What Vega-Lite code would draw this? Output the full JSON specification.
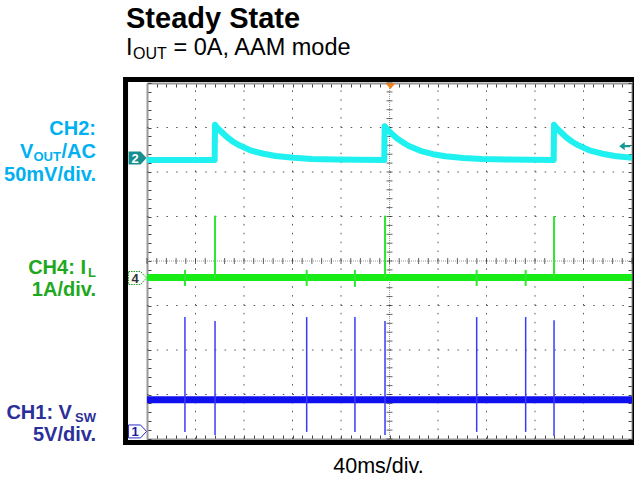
{
  "$schema": "https://vega.github.io/schema/vega-lite/v6.json",
  "width": 485,
  "height": 356,
  "autosize": "none",
  "padding": {"left": 147, "top": 83, "right": 2, "bottom": 42},
  "background": "white",
  "config": {"view": {"stroke": null}},
  "resolve": {"axis": {"x": "independent", "y": "independent"}},
  "datasets": {
    "minx": [{"t":-200},{"t":-192},{"t":-184},{"t":-176},{"t":-168},{"t":-160},{"t":-152},{"t":-144},{"t":-136},{"t":-128},{"t":-120},{"t":-112},{"t":-104},{"t":-96},{"t":-88},{"t":-80},{"t":-72},{"t":-64},{"t":-56},{"t":-48},{"t":-40},{"t":-32},{"t":-24},{"t":-16},{"t":-8},{"t":0},{"t":8},{"t":16},{"t":24},{"t":32},{"t":40},{"t":48},{"t":56},{"t":64},{"t":72},{"t":80},{"t":88},{"t":96},{"t":104},{"t":112},{"t":120},{"t":128},{"t":136},{"t":144},{"t":152},{"t":160},{"t":168},{"t":176},{"t":184},{"t":192},{"t":200}],
    "miny": [{"v":-4},{"v":-3.8},{"v":-3.6},{"v":-3.4},{"v":-3.2},{"v":-3},{"v":-2.8},{"v":-2.6},{"v":-2.4},{"v":-2.2},{"v":-2},{"v":-1.8},{"v":-1.6},{"v":-1.4},{"v":-1.2},{"v":-1},{"v":-0.8},{"v":-0.6},{"v":-0.4},{"v":-0.2},{"v":0},{"v":0.2},{"v":0.4},{"v":0.6},{"v":0.8},{"v":1},{"v":1.2},{"v":1.4},{"v":1.6},{"v":1.8},{"v":2},{"v":2.2},{"v":2.4},{"v":2.6},{"v":2.8},{"v":3},{"v":3.2},{"v":3.4},{"v":3.6},{"v":3.8},{"v":4}],
    "gridx": [{"t":-160},{"t":-120},{"t":-80},{"t":-40},{"t":40},{"t":80},{"t":120},{"t":160}],
    "gridy": [{"v":-3},{"v":-2},{"v":-1},{"v":1},{"v":2},{"v":3}],
    "ch2": [
      {"ms":-200,"div":2.27},{"ms":-144.2,"div":2.27},{"ms":-143.9,"div":3.06},{"ms":-141.9,"div":2.99},{"ms":-138.9,"div":2.91},{"ms":-133.9,"div":2.78},{"ms":-128.9,"div":2.68},{"ms":-123.9,"div":2.6},{"ms":-113.9,"div":2.48},{"ms":-103.9,"div":2.41},{"ms":-93.9,"div":2.36},{"ms":-78.9,"div":2.32},{"ms":-63.9,"div":2.29},{"ms":-43.9,"div":2.28},
      {"ms":-4.3,"div":2.27},{"ms":-4.0,"div":3.03},{"ms":-2.0,"div":2.965},{"ms":1.0,"div":2.88},{"ms":6.0,"div":2.76},{"ms":11.0,"div":2.665},{"ms":16.0,"div":2.585},{"ms":26.0,"div":2.47},{"ms":36.0,"div":2.4},{"ms":46.0,"div":2.355},{"ms":61.0,"div":2.315},{"ms":76.0,"div":2.29},{"ms":96.0,"div":2.28},
      {"ms":135.4,"div":2.27},{"ms":135.7,"div":3.06},{"ms":137.7,"div":2.99},{"ms":140.7,"div":2.91},{"ms":145.7,"div":2.78},{"ms":150.7,"div":2.68},{"ms":155.7,"div":2.6},{"ms":165.7,"div":2.48},{"ms":175.7,"div":2.41},{"ms":185.7,"div":2.36},{"ms":200,"div":2.32}
    ],
    "ch4": [{"ms":-200,"div":-0.37},{"ms":200,"div":-0.37}],
    "ch1": [{"ms":-200,"div":-3.12},{"ms":200,"div":-3.12}],
    "spikes": [
      {"ch":"CH4","ms":-143.9,"lo":-0.37,"hi":1.02},
      {"ch":"CH4","ms":-3.7,"lo":-0.37,"hi":1.02},
      {"ch":"CH4","ms":135.7,"lo":-0.37,"hi":1.01},
      {"ch":"CH4","ms":-168.7,"lo":-0.56,"hi":-0.2},
      {"ch":"CH4","ms":-68.3,"lo":-0.56,"hi":-0.2},
      {"ch":"CH4","ms":-28.5,"lo":-0.58,"hi":-0.2},
      {"ch":"CH4","ms":71.9,"lo":-0.56,"hi":-0.2},
      {"ch":"CH4","ms":112.3,"lo":-0.56,"hi":-0.2},
      {"ch":"CH1","ms":-168.7,"lo":-3.84,"hi":-1.26},
      {"ch":"CH1","ms":-143.9,"lo":-3.91,"hi":-1.35},
      {"ch":"CH1","ms":-68.3,"lo":-3.84,"hi":-1.26},
      {"ch":"CH1","ms":-28.5,"lo":-3.84,"hi":-1.26},
      {"ch":"CH1","ms":-3.7,"lo":-3.91,"hi":-1.35},
      {"ch":"CH1","ms":71.9,"lo":-3.84,"hi":-1.26},
      {"ch":"CH1","ms":112.3,"lo":-3.84,"hi":-1.26},
      {"ch":"CH1","ms":135.7,"lo":-3.93,"hi":-1.33}
    ]
  },
  "layer": [
    {
      "data": {"name": "gridx"},
      "mark": {"type": "rule", "color": "#555555", "strokeWidth": 1, "strokeDash": [1.5, 7.4]},
      "encoding": {
        "x": {"field": "t", "type": "quantitative", "scale": {"domain": [-200, 200], "nice": false, "zero": false}, "axis": null},
        "y": {"datum": -4, "type": "quantitative", "scale": {"domain": [-4, 4], "nice": false, "zero": false}, "axis": null},
        "y2": {"datum": 4}
      }
    },
    {
      "data": {"name": "gridy"},
      "mark": {"type": "rule", "color": "#555555", "strokeWidth": 1, "strokeDash": [1.5, 8.2]},
      "encoding": {
        "y": {"field": "v", "type": "quantitative", "axis": null},
        "x": {"datum": -200, "type": "quantitative", "axis": null},
        "x2": {"datum": 200}
      }
    },
    {
      "data": {"values": [{"t": 0}]},
      "mark": {"type": "rule", "color": "#999999", "strokeWidth": 1, "strokeDash": [1, 1]},
      "encoding": {
        "x": {"field": "t", "type": "quantitative", "axis": null},
        "y": {"datum": -4, "type": "quantitative", "axis": null},
        "y2": {"datum": 4}
      }
    },
    {
      "data": {"values": [{"v": 0}]},
      "mark": {"type": "rule", "color": "#999999", "strokeWidth": 1, "strokeDash": [1, 1]},
      "encoding": {
        "y": {"field": "v", "type": "quantitative", "axis": null},
        "x": {"datum": -200, "type": "quantitative", "axis": null},
        "x2": {"datum": 200}
      }
    },
    {
      "data": {"name": "minx"},
      "mark": {"type": "tick", "orient": "vertical", "color": "#222222", "size": 6, "thickness": 1},
      "encoding": {
        "x": {"field": "t", "type": "quantitative", "axis": null},
        "y": {"datum": 0, "type": "quantitative", "axis": null}
      }
    },
    {
      "data": {"name": "miny"},
      "mark": {"type": "tick", "orient": "horizontal", "color": "#222222", "size": 6, "thickness": 1},
      "encoding": {
        "y": {"field": "v", "type": "quantitative", "axis": null},
        "x": {"datum": 0, "type": "quantitative", "axis": null}
      }
    },
    {
      "data": {"name": "ch2"},
      "mark": {"type": "line", "color": "#1ff0f0", "strokeWidth": 6, "strokeJoin": "round"},
      "encoding": {
        "x": {"field": "ms", "type": "quantitative", "scale": {"domain": [-200, 200], "nice": false, "zero": false},
          "axis": {"orient": "bottom", "values": [-200,-192,-184,-176,-168,-160,-152,-144,-136,-128,-120,-112,-104,-96,-88,-80,-72,-64,-56,-48,-40,-32,-24,-16,-8,0,8,16,24,32,40,48,56,64,72,80,88,96,104,112,120,128,136,144,152,160,168,176,184,192,200],
            "labels": false, "title": null, "grid": false, "domain": true, "domainColor": "#999999", "domainWidth": 2, "ticks": true, "tickSize": -4, "tickColor": "#444444", "tickWidth": 1}},
        "y": {"field": "div", "type": "quantitative", "scale": {"domain": [-4, 4], "nice": false, "zero": false},
          "axis": {"orient": "left", "values": [-4,-3.8,-3.6,-3.4,-3.2,-3,-2.8,-2.6,-2.4,-2.2,-2,-1.8,-1.6,-1.4,-1.2,-1,-0.8,-0.6,-0.4,-0.2,0,0.2,0.4,0.6,0.8,1,1.2,1.4,1.6,1.8,2,2.2,2.4,2.6,2.8,3,3.2,3.4,3.6,3.8,4],
            "labels": false, "title": null, "grid": false, "domain": true, "domainColor": "#999999", "domainWidth": 2, "ticks": true, "tickSize": -4, "tickColor": "#444444", "tickWidth": 1}}
      }
    },
    {
      "data": {"name": "ch4"},
      "mark": {"type": "line", "color": "#17ec17", "strokeWidth": 7},
      "encoding": {
        "x": {"field": "ms", "type": "quantitative",
          "axis": {"orient": "top", "values": [-200,-192,-184,-176,-168,-160,-152,-144,-136,-128,-120,-112,-104,-96,-88,-80,-72,-64,-56,-48,-40,-32,-24,-16,-8,0,8,16,24,32,40,48,56,64,72,80,88,96,104,112,120,128,136,144,152,160,168,176,184,192,200],
            "labels": false, "title": null, "grid": false, "domain": true, "domainColor": "#999999", "domainWidth": 2, "ticks": true, "tickSize": -4, "tickColor": "#444444", "tickWidth": 1}},
        "y": {"field": "div", "type": "quantitative",
          "axis": {"orient": "right", "values": [-4,-3.8,-3.6,-3.4,-3.2,-3,-2.8,-2.6,-2.4,-2.2,-2,-1.8,-1.6,-1.4,-1.2,-1,-0.8,-0.6,-0.4,-0.2,0,0.2,0.4,0.6,0.8,1,1.2,1.4,1.6,1.8,2,2.2,2.4,2.6,2.8,3,3.2,3.4,3.6,3.8,4],
            "labels": false, "title": null, "grid": false, "domain": true, "domainColor": "#999999", "domainWidth": 2, "ticks": true, "tickSize": -4, "tickColor": "#444444", "tickWidth": 1}}
      }
    },
    {
      "data": {"name": "ch1"},
      "mark": {"type": "line", "color": "#1010ee", "strokeWidth": 7},
      "encoding": {
        "x": {"field": "ms", "type": "quantitative", "axis": null},
        "y": {"field": "div", "type": "quantitative", "axis": null}
      }
    },
    {
      "data": {"name": "spikes"},
      "transform": [{"filter": "datum.ch === 'CH4'"}],
      "mark": {"type": "rule", "color": "#2ee82e", "strokeWidth": 2},
      "encoding": {
        "x": {"field": "ms", "type": "quantitative", "axis": null},
        "y": {"field": "lo", "type": "quantitative", "axis": null},
        "y2": {"field": "hi"}
      }
    },
    {
      "data": {"name": "spikes"},
      "transform": [{"filter": "datum.ch === 'CH1'"}],
      "mark": {"type": "rule", "color": "#3b3bf5", "strokeWidth": 1.5},
      "encoding": {
        "x": {"field": "ms", "type": "quantitative", "axis": null},
        "y": {"field": "lo", "type": "quantitative", "axis": null},
        "y2": {"field": "hi"}
      }
    },
    {
      "data": {"values": [{"part": "bezel"}]},
      "mark": {"type": "rect", "filled": false, "stroke": "black", "strokeWidth": 5},
      "encoding": {
        "x": {"datum": -217.7, "type": "quantitative", "axis": null},
        "x2": {"datum": 202.5},
        "y": {"datum": -4.079, "type": "quantitative", "axis": null},
        "y2": {"datum": 4.079}
      }
    },
    {
      "data": {"values": [{"ch": "2"}]},
      "mark": {"type": "point", "filled": true, "color": "#178f8f", "opacity": 1, "size": 324, "shape": "M-1,-0.72 L0.33,-0.72 L1,0 L0.33,0.72 L-1,0.72 Z"},
      "encoding": {
        "x": {"datum": -207.8, "type": "quantitative", "axis": null},
        "y": {"datum": 2.315, "type": "quantitative", "axis": null}
      }
    },
    {
      "data": {"values": [{"ch": "4"}]},
      "mark": {"type": "point", "filled": true, "fill": "white", "stroke": "#1a9a1a", "strokeWidth": 1, "strokeDash": [1.5, 1], "opacity": 1, "size": 324, "shape": "M-1,-0.72 L0.33,-0.72 L1,0 L0.33,0.72 L-1,0.72 Z"},
      "encoding": {
        "x": {"datum": -207.8, "type": "quantitative", "axis": null},
        "y": {"datum": -0.382, "type": "quantitative", "axis": null}
      }
    },
    {
      "data": {"values": [{"ch": "1"}]},
      "mark": {"type": "point", "filled": true, "fill": "white", "stroke": "#2a2ac8", "strokeWidth": 1, "opacity": 1, "size": 324, "shape": "M-1,-0.72 L0.33,-0.72 L1,0 L0.33,0.72 L-1,0.72 Z"},
      "encoding": {
        "x": {"datum": -207.8, "type": "quantitative", "axis": null},
        "y": {"datum": -3.83, "type": "quantitative", "axis": null}
      }
    },
    {
      "data": {"values": [{"label": "2"}]},
      "mark": {"type": "text", "font": "Liberation Sans", "fontSize": 13, "fontWeight": "bold", "color": "white", "align": "center", "baseline": "middle"},
      "encoding": {"x": {"datum": -209.9, "type": "quantitative", "axis": null}, "y": {"datum": 2.3, "type": "quantitative", "axis": null}, "text": {"field": "label"}}
    },
    {
      "data": {"values": [{"label": "4"}]},
      "mark": {"type": "text", "font": "Liberation Sans", "fontSize": 13, "fontWeight": "bold", "color": "#333333", "align": "center", "baseline": "middle"},
      "encoding": {"x": {"datum": -209.9, "type": "quantitative", "axis": null}, "y": {"datum": -0.395, "type": "quantitative", "axis": null}, "text": {"field": "label"}}
    },
    {
      "data": {"values": [{"label": "1"}]},
      "mark": {"type": "text", "font": "Liberation Sans", "fontSize": 13, "fontWeight": "bold", "color": "#1a1aa0", "align": "center", "baseline": "middle"},
      "encoding": {"x": {"datum": -209.9, "type": "quantitative", "axis": null}, "y": {"datum": -3.845, "type": "quantitative", "axis": null}, "text": {"field": "label"}}
    },
    {
      "data": {"values": [{"marker": "trigger"}]},
      "mark": {"type": "point", "filled": true, "color": "#f08020", "opacity": 1, "size": 100, "shape": "M-1,-0.55 L1,-0.55 L0,0.6 Z"},
      "encoding": {"x": {"datum": 0.8, "type": "quantitative", "axis": null}, "y": {"datum": 3.93, "type": "quantitative", "axis": null}}
    },
    {
      "data": {"values": [{"marker": "ch2 ref"}]},
      "mark": {"type": "point", "filled": true, "color": "#159a9a", "opacity": 1, "size": 121, "shape": "M-1,0 L0,-0.75 L0,0.75 Z M0,-0.2 L1,-0.2 L1,0.2 L0,0.2 Z"},
      "encoding": {"x": {"datum": 194, "type": "quantitative", "axis": null}, "y": {"datum": 2.58, "type": "quantitative", "axis": null}}
    },
    {
      "data": {"values": [{"label": "Steady State"}]},
      "mark": {"type": "text", "font": "Liberation Sans", "fontSize": 29, "fontWeight": "bold", "color": "black", "align": "left", "baseline": "alphabetic"},
      "encoding": {"x": {"datum": -217.3, "type": "quantitative", "axis": null}, "y": {"datum": 5.236, "type": "quantitative", "axis": null}, "text": {"field": "label"}}
    },
    {
      "data": {"values": [{"label": "I"}]},
      "mark": {"type": "text", "font": "Liberation Sans", "fontSize": 23.5, "color": "black", "align": "left", "baseline": "alphabetic"},
      "encoding": {"x": {"datum": -217.3, "type": "quantitative", "axis": null}, "y": {"datum": 4.629, "type": "quantitative", "axis": null}, "text": {"field": "label"}}
    },
    {
      "data": {"values": [{"label": "OUT"}]},
      "mark": {"type": "text", "font": "Liberation Sans", "fontSize": 16, "color": "black", "align": "left", "baseline": "alphabetic", "dx": 7, "dy": 4},
      "encoding": {"x": {"datum": -217.3, "type": "quantitative", "axis": null}, "y": {"datum": 4.629, "type": "quantitative", "axis": null}, "text": {"field": "label"}}
    },
    {
      "data": {"values": [{"label": "= 0A, AAM mode"}]},
      "mark": {"type": "text", "font": "Liberation Sans", "fontSize": 23.5, "color": "black", "align": "left", "baseline": "alphabetic", "dx": 47.5},
      "encoding": {"x": {"datum": -217.3, "type": "quantitative", "axis": null}, "y": {"datum": 4.629, "type": "quantitative", "axis": null}, "text": {"field": "label"}}
    },
    {
      "data": {"values": [{"label": "CH2:"}]},
      "mark": {"type": "text", "font": "Liberation Sans", "fontSize": 20, "fontWeight": "bold", "color": "#00b0f0", "align": "right", "baseline": "alphabetic"},
      "encoding": {"x": {"datum": -242.1, "type": "quantitative", "axis": null}, "y": {"datum": 2.831, "type": "quantitative", "axis": null}, "text": {"field": "label"}}
    },
    {
      "data": {"values": [{"label": "/AC"}]},
      "mark": {"type": "text", "font": "Liberation Sans", "fontSize": 20, "fontWeight": "bold", "color": "#00b0f0", "align": "right", "baseline": "alphabetic"},
      "encoding": {"x": {"datum": -242.1, "type": "quantitative", "axis": null}, "y": {"datum": 2.315, "type": "quantitative", "axis": null}, "text": {"field": "label"}}
    },
    {
      "data": {"values": [{"label": "OUT"}]},
      "mark": {"type": "text", "font": "Liberation Sans", "fontSize": 13, "fontWeight": "bold", "color": "#00b0f0", "align": "right", "baseline": "alphabetic", "dx": -35, "dy": 3},
      "encoding": {"x": {"datum": -242.1, "type": "quantitative", "axis": null}, "y": {"datum": 2.315, "type": "quantitative", "axis": null}, "text": {"field": "label"}}
    },
    {
      "data": {"values": [{"label": "V"}]},
      "mark": {"type": "text", "font": "Liberation Sans", "fontSize": 20, "fontWeight": "bold", "color": "#00b0f0", "align": "right", "baseline": "alphabetic", "dx": -62.5},
      "encoding": {"x": {"datum": -242.1, "type": "quantitative", "axis": null}, "y": {"datum": 2.315, "type": "quantitative", "axis": null}, "text": {"field": "label"}}
    },
    {
      "data": {"values": [{"label": "50mV/div."}]},
      "mark": {"type": "text", "font": "Liberation Sans", "fontSize": 20, "fontWeight": "bold", "color": "#00b0f0", "align": "right", "baseline": "alphabetic"},
      "encoding": {"x": {"datum": -242.1, "type": "quantitative", "axis": null}, "y": {"datum": 1.798, "type": "quantitative", "axis": null}, "text": {"field": "label"}}
    },
    {
      "data": {"values": [{"label": "L"}]},
      "mark": {"type": "text", "font": "Liberation Sans", "fontSize": 13, "fontWeight": "bold", "color": "#1ea81e", "align": "right", "baseline": "alphabetic", "dy": 3},
      "encoding": {"x": {"datum": -242.1, "type": "quantitative", "axis": null}, "y": {"datum": -0.292, "type": "quantitative", "axis": null}, "text": {"field": "label"}}
    },
    {
      "data": {"values": [{"label": "CH4: I"}]},
      "mark": {"type": "text", "font": "Liberation Sans", "fontSize": 20, "fontWeight": "bold", "color": "#1ea81e", "align": "right", "baseline": "alphabetic", "dx": -10},
      "encoding": {"x": {"datum": -242.1, "type": "quantitative", "axis": null}, "y": {"datum": -0.292, "type": "quantitative", "axis": null}, "text": {"field": "label"}}
    },
    {
      "data": {"values": [{"label": "1A/div."}]},
      "mark": {"type": "text", "font": "Liberation Sans", "fontSize": 20, "fontWeight": "bold", "color": "#1ea81e", "align": "right", "baseline": "alphabetic"},
      "encoding": {"x": {"datum": -242.1, "type": "quantitative", "axis": null}, "y": {"datum": -0.787, "type": "quantitative", "axis": null}, "text": {"field": "label"}}
    },
    {
      "data": {"values": [{"label": "SW"}]},
      "mark": {"type": "text", "font": "Liberation Sans", "fontSize": 13, "fontWeight": "bold", "color": "#2b2f99", "align": "right", "baseline": "alphabetic", "dy": 3},
      "encoding": {"x": {"datum": -242.1, "type": "quantitative", "axis": null}, "y": {"datum": -3.551, "type": "quantitative", "axis": null}, "text": {"field": "label"}}
    },
    {
      "data": {"values": [{"label": "CH1: V"}]},
      "mark": {"type": "text", "font": "Liberation Sans", "fontSize": 20, "fontWeight": "bold", "color": "#2b2f99", "align": "right", "baseline": "alphabetic", "dx": -24},
      "encoding": {"x": {"datum": -242.1, "type": "quantitative", "axis": null}, "y": {"datum": -3.551, "type": "quantitative", "axis": null}, "text": {"field": "label"}}
    },
    {
      "data": {"values": [{"label": "5V/div."}]},
      "mark": {"type": "text", "font": "Liberation Sans", "fontSize": 20, "fontWeight": "bold", "color": "#2b2f99", "align": "right", "baseline": "alphabetic"},
      "encoding": {"x": {"datum": -242.1, "type": "quantitative", "axis": null}, "y": {"datum": -4.045, "type": "quantitative", "axis": null}, "text": {"field": "label"}}
    },
    {
      "data": {"values": [{"label": "40ms/div."}]},
      "mark": {"type": "text", "font": "Liberation Sans", "fontSize": 21.5, "color": "black", "align": "center", "baseline": "alphabetic"},
      "encoding": {"x": {"datum": -9.1, "type": "quantitative", "axis": null}, "y": {"datum": -4.775, "type": "quantitative", "axis": null}, "text": {"field": "label"}}
    }
  ]
}
